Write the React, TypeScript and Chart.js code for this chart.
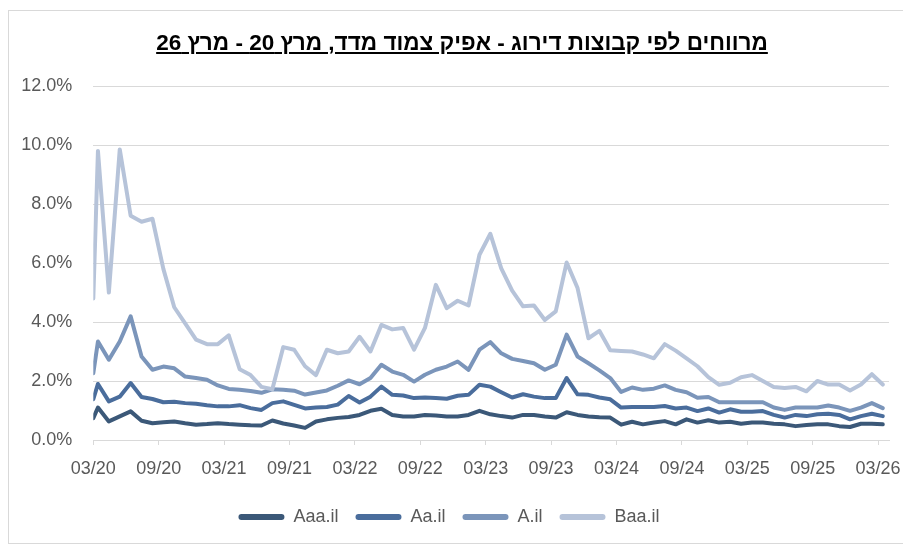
import React, { useEffect, useRef } from "react";
import { Chart, registerables } from "chart.js";
Chart.register(...registerables);

const title = "מרווחים לפי קבוצות דירוג - אפיק צמוד מדד, מרץ 20 - מרץ 26";

const dates = [
  "2020-03-01",
  "2020-03-14", "2020-04-14", "2020-05-14", "2020-06-14", "2020-07-14", "2020-08-14", "2020-09-14", "2020-10-14", "2020-11-14", "2020-12-14",
  "2021-01-14", "2021-02-14", "2021-03-14", "2021-04-14", "2021-05-14", "2021-06-14", "2021-07-14", "2021-08-14", "2021-09-14", "2021-10-14", "2021-11-14", "2021-12-14",
  "2022-01-14", "2022-02-14", "2022-03-14", "2022-04-14", "2022-05-14", "2022-06-14", "2022-07-14", "2022-08-14", "2022-09-14", "2022-10-14", "2022-11-14", "2022-12-14",
  "2023-01-14", "2023-02-14", "2023-03-14", "2023-04-14", "2023-05-14", "2023-06-14", "2023-07-14", "2023-08-14", "2023-09-14", "2023-10-14", "2023-11-14", "2023-12-14",
  "2024-01-14", "2024-02-14", "2024-03-14", "2024-04-14", "2024-05-14", "2024-06-14", "2024-07-14", "2024-08-14", "2024-09-14", "2024-10-14", "2024-11-14", "2024-12-14",
  "2025-01-14", "2025-02-14", "2025-03-14", "2025-04-14", "2025-05-14", "2025-06-14", "2025-07-14", "2025-08-14", "2025-09-14", "2025-10-14", "2025-11-14", "2025-12-14",
  "2026-01-14", "2026-02-14", "2026-03-14",
];

const tickLabels = ["03/20", "09/20", "03/21", "09/21", "03/22", "09/22", "03/23", "09/23", "03/24", "09/24", "03/25", "09/25", "03/26"];
const axisEnd = "2026-04-01";

const seriesNames = ["Aaa.il", "Aa.il", "A.il", "Baa.il"];

const aaa = [0.74, 1.1, 0.63, 0.8, 0.97, 0.65, 0.57, 0.6, 0.63, 0.57, 0.52, 0.54, 0.57, 0.54, 0.52, 0.5, 0.49, 0.66, 0.56, 0.49, 0.41, 0.63, 0.7, 0.75, 0.78, 0.85, 0.99, 1.06, 0.85, 0.8, 0.8, 0.85, 0.83, 0.8, 0.8, 0.85, 0.99, 0.87, 0.81, 0.76, 0.85, 0.85, 0.8, 0.76, 0.94, 0.85, 0.8, 0.77, 0.76, 0.52, 0.62, 0.53, 0.59, 0.64, 0.53, 0.7, 0.59, 0.67, 0.59, 0.62, 0.55, 0.59, 0.59, 0.55, 0.53, 0.47, 0.51, 0.53, 0.53, 0.47, 0.44, 0.55, 0.55, 0.53];
const aa = [1.38, 1.9, 1.31, 1.47, 1.93, 1.46, 1.39, 1.28, 1.3, 1.25, 1.23, 1.18, 1.14, 1.14, 1.18, 1.08, 1.02, 1.25, 1.31, 1.19, 1.07, 1.1, 1.12, 1.2, 1.49, 1.27, 1.47, 1.81, 1.53, 1.51, 1.42, 1.44, 1.42, 1.4, 1.5, 1.53, 1.87, 1.81, 1.62, 1.44, 1.55, 1.47, 1.42, 1.42, 2.1, 1.55, 1.53, 1.44, 1.38, 1.1, 1.12, 1.12, 1.12, 1.15, 1.07, 1.1, 0.98, 1.07, 0.93, 1.04, 0.96, 0.96, 0.98, 0.85, 0.76, 0.85, 0.81, 0.87, 0.89, 0.85, 0.7, 0.81, 0.89, 0.81];
const aIl = [2.26, 3.34, 2.72, 3.34, 4.19, 2.83, 2.38, 2.49, 2.43, 2.15, 2.1, 2.04, 1.85, 1.73, 1.7, 1.66, 1.6, 1.72, 1.7, 1.67, 1.54, 1.61, 1.68, 1.84, 2.02, 1.89, 2.1, 2.55, 2.32, 2.21, 1.98, 2.21, 2.38, 2.49, 2.66, 2.38, 3.06, 3.32, 2.94, 2.75, 2.68, 2.6, 2.38, 2.55, 3.57, 2.83, 2.6, 2.36, 2.1, 1.63, 1.78, 1.7, 1.74, 1.85, 1.7, 1.62, 1.43, 1.46, 1.28, 1.28, 1.28, 1.28, 1.28, 1.1, 1.02, 1.1, 1.1, 1.1, 1.17, 1.1, 0.99, 1.1, 1.25, 1.08];
const baa = [4.8, 9.8, 5.0, 9.85, 7.6, 7.4, 7.5, 5.8, 4.5, 3.95, 3.4, 3.25, 3.25, 3.55, 2.4, 2.2, 1.8, 1.72, 3.15, 3.06, 2.5, 2.2, 3.06, 2.94, 3.0, 3.5, 3.0, 3.9, 3.75, 3.8, 3.06, 3.8, 5.26, 4.47, 4.72, 4.56, 6.28, 6.99, 5.82, 5.06, 4.53, 4.56, 4.07, 4.36, 6.02, 5.15, 3.45, 3.7, 3.04, 3.02, 3.0, 2.9, 2.77, 3.25, 3.03, 2.77, 2.5, 2.13, 1.87, 1.94, 2.13, 2.2, 2.0, 1.8, 1.76, 1.8, 1.65, 2.0, 1.88, 1.88, 1.68, 1.88, 2.23, 1.88];

const seriesValues = [aaa, aa, aIl, baa];
const colors = ["#3b5878", "#4a6d9c", "#7b95ba", "#b6c3d9"];

const FONT = "'Liberation Sans', Arial, sans-serif";

function toMonths(s: string): number {
  const [y, m, d] = s.split("-").map(Number);
  return (y - 2020) * 12 + (m - 3) + (d - 1) / 30.44;
}
function labelToMonths(l: string): number {
  const [mm, yy] = l.split("/").map(Number);
  return (2000 + yy - 2020) * 12 + (mm - 3);
}

export default function App() {
  const ref = useRef<HTMLCanvasElement | null>(null);
  useEffect(() => {
    if (!ref.current) return;
    const xs = dates.map(toMonths);
    const chart = new Chart(ref.current, {
      type: "line",
      data: {
        datasets: seriesNames.map((name, i) => ({
          label: name,
          data: seriesValues[i].map((v, j) => ({ x: xs[j], y: v })),
          borderColor: colors[i],
          backgroundColor: colors[i],
          borderWidth: 4,
          pointRadius: 0,
          tension: 0,
          borderJoinStyle: "round" as const,
          borderCapStyle: "round" as const,
          order: 4 - i,
        })),
      },
      options: {
        animation: false,
        responsive: false,
        layout: { padding: { left: 0, right: 14, top: 75, bottom: 7 } },
        scales: {
          x: {
            type: "linear",
            min: 0,
            max: toMonths(axisEnd),
            afterBuildTicks: (scale: any) => {
              scale.ticks = tickLabels.map((l) => ({ value: labelToMonths(l) }));
            },
            afterFit: (scale: any) => {
              scale.height = 51;
              scale.paddingLeft = 0;
              scale.paddingRight = 0;
            },
            ticks: {
              autoSkip: false,
              maxRotation: 0,
              padding: 13.5,
              color: "#595959",
              font: { family: FONT, size: 18 },
              callback: (_v: any, idx: number) => tickLabels[idx],
            },
            grid: { drawOnChartArea: false, drawTicks: true, tickLength: 5, color: "#d9d9d9" },
            border: { display: true, color: "#d9d9d9", width: 1 },
          },
          y: {
            min: 0,
            max: 12,
            afterFit: (scale: any) => {
              scale.width = 84.3;
            },
            ticks: {
              stepSize: 2,
              padding: 21,
              color: "#595959",
              font: { family: FONT, size: 18 },
              callback: (v: any) => Number(v).toFixed(1) + "%",
            },
            grid: { color: "#d9d9d9", drawTicks: false },
            border: { display: false },
          },
        },
        plugins: {
          title: { display: false },
          tooltip: { enabled: false },
          legend: {
            display: true,
            position: "bottom",
            labels: {
              boxWidth: 46,
              boxHeight: 6,
              padding: 17,
              color: "#595959",
              font: { family: FONT, size: 18 },
              useBorderRadius: true,
              borderRadius: 3,
              sort: (a: any, b: any) => a.datasetIndex - b.datasetIndex,
              generateLabels: (c: any) => {
                const items = Chart.defaults.plugins.legend.labels.generateLabels(c);
                return items.map((it: any) => ({ ...it, lineWidth: 0, fillStyle: it.strokeStyle, borderRadius: 3 }));
              },
            },
          },
        },
      },
    });
    return () => chart.destroy();
  }, []);

  return (
    <div
      style={{
        position: "relative",
        width: 896,
        height: 534,
        marginTop: 2,
        border: "1px solid #d9d9d9",
        boxSizing: "border-box",
        background: "#fff",
      }}
    >
      <canvas ref={ref} width={894} height={532} style={{ position: "absolute", left: 0, top: 0 }} />
      <div
        dir="rtl"
        style={{
          position: "absolute",
          top: 19,
          left: 0,
          width: 894,
          textAlign: "center",
          fontFamily: FONT,
          fontWeight: "bold",
          fontSize: 22.5,
          color: "#000",
          textDecoration: "underline",
          paddingLeft: 12,
          boxSizing: "border-box",
        }}
      >
        {title}
      </div>
    </div>
  );
}
